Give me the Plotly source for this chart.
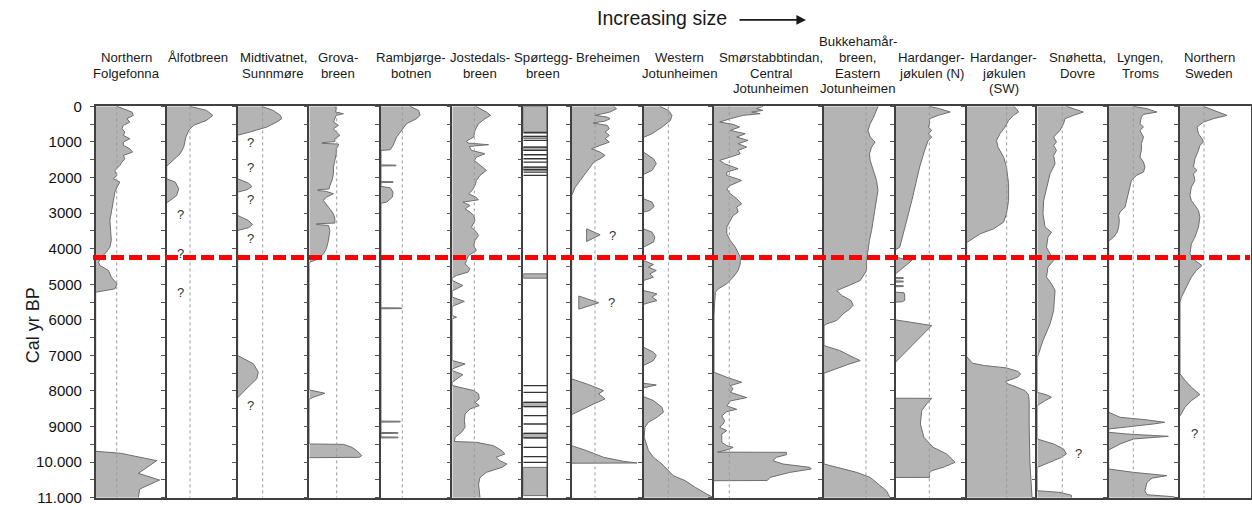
import plotly.graph_objects as go

# ---------------- data (age in cal yr BP, relative glacier size) ----------------
TITLES = [
    ["Northern", "Folgefonna"], ["Ålfotbreen"], ["Midtivatnet,", "Sunnmøre"],
    ["Grova-", "breen"], ["Rambjørge-", "botnen"], ["Jostedals-", "breen"],
    ["Spørtegg-", "breen"], ["Breheimen"], ["Western", "Jotunheimen"],
    ["Smørstabbtindan,", "Central", "Jotunheimen"],
    ["Bukkehamår-", "breen,", "Eastern", "Jotunheimen"],
    ["Hardanger-", "jøkulen (N)"], ["Hardanger-", "jøkulen", "(SW)"],
    ["Snøhetta,", "Dovre"], ["Lyngen,", "Troms"], ["Northern", "Sweden"],
]

# reference (dashed) size level per panel; None = no line
DASH_REF = [29.6, 32.8, 35.2, 38.6, 30, 31, None, 32.8, 35, 21.5, 59.2, 47.6, 56.3, 35.2, 34.6, 33.8]

N_FOLGEFONNA = [(0, 30), (66, 39), (159, 51), (253, 53), (347, 44), (441, 48), (534, 39), (628, 37),
                (722, 41), (816, 39), (910, 48), (1003, 39), (1097, 39), (1191, 48), (1285, 52), (1378, 39),
                (1472, 41), (1566, 37), (1660, 34), (1800, 27), (1941, 30), (2035, 25), (2128, 34), (2269, 30),
                (2410, 27), (2644, 25), (2925, 22), (3207, 20), (3488, 21), (3769, 22), (3957, 20), (4098, 15),
                (4238, 8), (4379, 4), (4473, 6), (4613, 18), (4801, 22), (4988, 30), (5129, 27), (5200, 10),
                (5223, 0), (9695, 0), (9750, 35), (9958, 86), (10315, 60), (10503, 90), (10756, 62), (11000, 60)]
ALFOTBREEN = [(0, 33), (113, 56), (253, 65), (394, 56), (534, 38), (675, 31), (863, 27), (1144, 24),
              (1331, 19), (1519, 9), (1660, 1), (1680, 0), (2035, 0), (2128, 12), (2316, 17), (2504, 14),
              (2644, 5), (2710, 0)]
MIDTIVATNET = [(0, 34), (113, 50), (253, 60), (347, 62), (441, 55), (581, 41), (722, 17), (797, 1), (810, 0),
               (2035, 0), (2157, 15), (2250, 20), (2344, 13), (2410, 0), (3066, 0), (3207, 15), (3319, 21),
               (3413, 15), (3488, 0), (7004, 0), (7233, 22), (7468, 29), (7655, 27), (7843, 17), (8030, 8),
               (8190, 0)]
GROVABREEN = [(0, 36), (66, 38), (159, 37), (206, 48), (253, 38), (347, 36), (441, 34), (534, 41), (628, 34),
              (722, 38), (816, 43), (910, 36), (990, 36), (1020, 18), (1040, 18), (1060, 41), (1097, 41),
              (1191, 38), (1331, 38), (1519, 36), (1707, 34), (1894, 34), (2082, 32), (2222, 29), (2320, 28),
              (2344, 12), (2365, 12), (2390, 24), (2457, 34), (2550, 24), (2644, 20), (2832, 27), (3020, 34),
              (3160, 36), (3280, 36), (3300, 10), (3320, 10), (3347, 27), (3488, 29), (3769, 27), (4004, 24),
              (4145, 20), (4285, 13), (4379, 1), (4400, 0), (7970, 0), (8064, 22), (8158, 8), (8223, 0),
              (9489, 0), (9500, 48), (9583, 60), (9677, 67), (9817, 74), (9864, 70), (9875, 0)]
RAMBJORGEBOTNEN = [(0, 41), (113, 53), (253, 55), (347, 50), (488, 36), (675, 29), (863, 22), (1097, 17),
                   (1219, 13), (1238, 0), (1645, 0), (1650, 21), (1670, 21), (1675, 0), (2113, 0), (2118, 17),
                   (2138, 17), (2143, 0), (2250, 0), (2288, 13), (2410, 17), (2550, 16), (2691, 8), (2720, 0),
                   (5660, 0), (5665, 29), (5685, 29), (5690, 0), (8845, 0), (8850, 27), (8870, 27), (8875, 0),
                   (9165, 0), (9170, 24), (9190, 24), (9195, 0), (9290, 0), (9295, 24), (9315, 24), (9320, 0)]
JOSTEDALSBREEN = [(0, 33), (66, 39), (159, 48), (253, 54), (347, 46), (488, 37), (675, 32), (863, 30),
                  (975, 20), (1031, 22), (1078, 51), (1125, 24), (1238, 27), (1331, 46), (1425, 34), (1519, 31),
                  (1660, 39), (1800, 48), (1941, 39), (2082, 34), (2222, 32), (2363, 28), (2457, 23), (2550, 33),
                  (2625, 37), (2691, 15), (2785, 25), (2879, 18), (2972, 25), (3066, 30), (3207, 32), (3394, 27),
                  (3535, 34), (3629, 37), (3769, 32), (3910, 30), (4051, 34), (4191, 23), (4332, 20), (4426, 18),
                  (4566, 25), (4660, 22), (4754, 6), (4820, 0), (4895, 0), (5035, 15), (5157, 3), (5180, 0),
                  (5363, 0), (5480, 17), (5598, 3), (5620, 0), (5880, 0), (5925, 6), (5970, 0), (7145, 0),
                  (7240, 18), (7380, 0), (7427, 0), (7540, 15), (7754, 0), (7848, 0), (7988, 30), (8081, 37),
                  (8222, 38), (8317, 32), (8411, 38), (8505, 25), (8645, 18), (8833, 17), (9021, 18), (9162, 13),
                  (9302, 4), (9420, 3), (9443, 34), (9536, 58), (9677, 70), (9770, 74), (9864, 62), (9958, 67),
                  (10052, 77), (10146, 70), (10287, 48), (10428, 39), (10616, 37), (10803, 38), (11000, 39)]
SPORTEGG_GRAY = [(0, 722), (844, 900), (1144, 1238), (1707, 1782), (4707, 4829), (8317, 8439),
                 (9189, 9320), (10146, 10940)]
SPORTEGG_LINES = [741, 844, 956, 1144, 1238, 1360, 1472, 1566, 1707, 1782, 1847, 1941,
                  7848, 8036, 8317, 8439, 8692, 8927, 9189, 9320, 9583, 9845, 10005]
BREHEIMEN = [(0, 59), (66, 63), (159, 54), (253, 33), (300, 50), (347, 54), (413, 47), (469, 30), (534, 50),
             (628, 53), (722, 47), (816, 53), (910, 47), (1003, 53), (1097, 40), (1191, 28), (1285, 40),
             (1378, 47), (1472, 40), (1566, 31), (1707, 26), (1894, 19), (2082, 12), (2269, 5), (2504, 0),
             (7660, 0), (7800, 21), (7988, 45), (8081, 38), (8222, 47), (8364, 31), (8551, 12), (8664, 0),
             (9536, 0), (9677, 21), (9864, 45), (9977, 73), (10024, 92), (10030, 0)]
BREHEIMEN_FLOAT_1 = [(3441, 21), (3610, 40), (3800, 21)]
BREHEIMEN_FLOAT_2 = [(5330, 10), (5520, 38), (5700, 10)]
W_JOTUNHEIMEN = [(0, 23), (113, 35), (253, 40), (394, 38), (581, 26), (769, 12), (863, 1), (880, 0),
                 (1285, 0), (1472, 14), (1613, 18), (1800, 12), (1913, 0), (2597, 0), (2691, 12), (2813, 15),
                 (2925, 9), (2972, 0), (3441, 0), (3535, 12), (3676, 16), (3816, 14), (3957, 0), (4332, 0),
                 (4444, 14), (4520, 7), (4613, 18), (4707, 9), (4801, 14), (4895, 0), (5176, 0), (5270, 19),
                 (5363, 12), (5457, 19), (5551, 2), (5570, 0), (6770, 0), (6910, 14), (7004, 18), (7145, 14),
                 (7285, 0), (7782, 0), (7830, 18), (7913, 0), (8158, 0), (8270, 14), (8458, 26), (8598, 28),
                 (8739, 19), (8880, 7), (9021, 2), (9300, 1), (9677, 7), (9864, 14), (10052, 26), (10240, 35),
                 (10381, 42), (10522, 59), (10709, 73), (10896, 89), (11000, 99)]
SMORSTABBTINDAN = [(0, 69), (66, 60), (113, 69), (159, 53), (206, 65), (253, 41), (347, 23), (441, 8),
                   (506, 27), (581, 36), (675, 23), (769, 44), (863, 32), (957, 48), (1050, 34), (1144, 46),
                   (1238, 34), (1331, 37), (1425, 23), (1519, 8), (1613, 15), (1753, 34), (1847, 18), (1941, 18),
                   (2082, 39), (2222, 23), (2316, 18), (2457, 23), (2597, 32), (2738, 39), (2832, 32), (2972, 34),
                   (3066, 27), (3207, 23), (3394, 18), (3582, 18), (3769, 23), (3957, 30), (4098, 34), (4238, 37),
                   (4426, 37), (4613, 34), (4801, 27), (4988, 18), (5129, 6), (5223, 2), (5500, 1), (5880, 0),
                   (7473, 0), (7614, 18), (7754, 39), (7848, 23), (7942, 27), (8036, 23), (8186, 46), (8280, 23),
                   (8420, 18), (8514, 32), (8580, 18), (8702, 11), (8842, 15), (8927, 13), (9021, 8), (9115, 18),
                   (9208, 11), (9443, 11), (9536, 18), (9583, 27), (9658, 18), (9718, 5), (9724, 102), (9790, 102),
                   (9864, 88), (9958, 83), (10052, 97), (10146, 135), (10193, 137), (10287, 107), (10428, 79),
                   (10515, 75), (10522, 0)]
BUKKEHAMARBREEN = [(0, 76), (113, 74), (300, 70), (488, 65), (675, 62), (863, 65), (1003, 72), (1144, 67),
                   (1331, 64), (1519, 65), (1800, 69), (2082, 74), (2363, 76), (2644, 74), (2925, 72), (3207, 69),
                   (3488, 67), (3769, 64), (4051, 62), (4332, 60), (4613, 60), (4895, 51), (5035, 35), (5176, 18),
                   (5316, 25), (5457, 38), (5590, 41), (5700, 36), (5832, 27), (6020, 18), (6113, 4), (6160, 0),
                   (6723, 0), (6863, 22), (7051, 41), (7145, 51), (7239, 36), (7380, 18), (7501, 0),
                   (10052, 0), (10146, 18), (10287, 46), (10428, 65), (10615, 77), (10803, 88), (11000, 93)]
HARDANGER_N = [(0, 48), (66, 62), (159, 77), (253, 60), (347, 48), (488, 48), (581, 46), (675, 51), (769, 46),
               (863, 51), (957, 46), (1238, 41), (1707, 34), (2175, 29), (2644, 23), (3113, 17), (3582, 11),
               (3957, 6), (4030, 0), (4238, 0), (4332, 23), (4473, 15), (4613, 6), (4707, 0),
               (4810, 0), (4815, 11), (4840, 11), (4845, 0), (4905, 0), (4910, 11), (4935, 11), (4940, 0),
               (5035, 0), (5040, 11), (5065, 11), (5070, 0), (5223, 0), (5240, 12), (5300, 13), (5450, 13),
               (5490, 10), (5504, 0), (6001, 0), (6160, 51), (7192, 0), (8204, 0), (8206, 51), (8360, 44),
               (8551, 37), (8927, 35), (9302, 40), (9583, 53), (9770, 72), (10005, 84), (10146, 67),
               (10240, 51), (10300, 48), (10428, 48), (10430, 0)]
HARDANGER_SW = [(0, 66), (66, 70), (159, 73), (253, 66), (394, 59), (581, 54), (769, 47), (957, 42), (1144, 44),
                (1425, 52), (1707, 56), (2175, 59), (2644, 59), (3020, 56), (3254, 52), (3441, 38), (3582, 19),
                (3723, 7), (3816, 1), (3830, 0), (7032, 0), (7220, 8), (7285, 25), (7351, 56), (7450, 72),
                (7520, 76), (7610, 72), (7730, 55), (7800, 58), (7890, 70), (7988, 82), (8100, 87), (8300, 88),
                (9000, 88), (10000, 89), (10990, 92), (11000, 92)]
SNOHETTA = [(0, 41), (66, 51), (159, 65), (253, 51), (347, 39), (488, 37), (675, 32), (863, 23), (1003, 27),
            (1097, 23), (1238, 27), (1378, 23), (1613, 25), (1894, 18), (2269, 13), (2644, 9), (3020, 8),
            (3394, 11), (3535, 20), (3676, 15), (3957, 13), (4145, 18), (4332, 23), (4520, 15), (4801, 13),
            (4988, 20), (5176, 25), (5457, 24), (5738, 23), (6113, 18), (6582, 8), (7004, 1), (7050, 0),
            (8040, 0), (8106, 13), (8176, 20), (8270, 11), (8411, 0), (9349, 0), (9489, 23), (9630, 37),
            (9770, 41), (9864, 34), (9958, 23), (10100, 6), (10146, 0), (10803, 0), (10850, 32), (10930, 48),
            (11000, 48)]
LYNGEN = [(0, 35), (66, 54), (159, 68), (225, 49), (300, 46), (488, 44), (581, 49), (675, 44), (863, 49),
          (1050, 46), (1238, 46), (1425, 44), (1566, 49), (1707, 51), (1847, 49), (1941, 39), (2082, 32),
          (2269, 30), (2457, 28), (2644, 25), (2832, 23), (2972, 16), (3066, 14), (3207, 15), (3394, 14),
          (3535, 12), (3676, 7), (3769, 1), (3790, 0), (8598, 0), (8739, 16), (8810, 53), (8880, 79),
          (8927, 63), (9021, 16), (9068, 0), (9161, 0), (9208, 25), (9274, 84), (9349, 35), (9489, 16),
          (9658, 0), (10192, 0), (10287, 35), (10379, 82), (10450, 61), (10568, 54), (10803, 51), (10915, 54),
          (10972, 91), (11000, 95)]
N_SWEDEN = [(0, 33), (113, 47), (253, 66), (347, 47), (441, 33), (581, 24), (769, 26), (910, 31), (1003, 33),
            (1097, 28), (1238, 26), (1472, 21), (1707, 19), (1800, 24), (1894, 19), (2082, 21), (2269, 16),
            (2504, 14), (2644, 16), (2785, 21), (2925, 26), (3113, 28), (3394, 26), (3676, 21), (3863, 16),
            (4145, 14), (4332, 21), (4473, 31), (4613, 23), (4801, 16), (5082, 9), (5363, 2), (5504, 0),
            (7520, 0), (7700, 7), (7895, 16), (8101, 28), (8270, 16), (8458, 7), (8692, 1), (8700, 0)]

PROFILES = [N_FOLGEFONNA, ALFOTBREEN, MIDTIVATNET, GROVABREEN, RAMBJORGEBOTNEN, JOSTEDALSBREEN, None,
            BREHEIMEN, W_JOTUNHEIMEN, SMORSTABBTINDAN, BUKKEHAMARBREEN, HARDANGER_N, HARDANGER_SW,
            SNOHETTA, LYNGEN, N_SWEDEN]

# uncertain ages marked "?" : (panel index, age, size)
QUERIES = [(1, 3050, 11.7), (1, 4130, 11.7), (1, 5230, 11.7),
           (2, 1004, 10.5), (2, 1707, 10.5), (2, 2625, 10.5), (2, 3722, 10.5), (2, 8411, 10.5),
           (7, 3629, 50), (7, 5520, 49), (13, 9752, 50), (15, 9198, 12.7)]

RED_LINE_AGE = 4250
TICK_VALS = list(range(0, 11001, 500))
TICK_TEXT = {0: "0", 1000: "1000", 2000: "2000", 3000: "3000", 4000: "4000", 5000: "5000", 6000: "6000",
             7000: "7000", 8000: "8000", 9000: "9000", 10000: "10.000", 11000: "11.000"}

# ---------------- layout geometry (pixels) ----------------
W, H = 1252, 510
EDGES = [95.7, 166.7, 237.7, 309.3, 381, 452.3, 523.3, 571.7, 643.5, 714, 824, 895.5,
         966.7, 1037.3, 1108.7, 1180, 1250.5]
PX_PER_UNIT = 0.71
TOP_PX, BOT_PX = 106, 497.5
TITLE_X = [126, 198, 273, 338, 411, 480, 543, 607.5, 680, 771, 857.5, 931, 1003.5, 1077, 1140, 1209]
LINE_Y = [57.5, 73, 88.5]
SPT_BAR_UNITS = 24 / PX_PER_UNIT
# the page photo maps page y to picture y as y*0.967 + 8.6 ; compensate
Y_SCALE, Y_OFF = 0.967, 8.6

FILL = "#b4b4b4"
EDGE = "#6e6e6e"
AX = "#404040"
FONT_T = "Liberation Sans, Arial, sans-serif"
FONT_R = "Liberation Sans, Arial, sans-serif"


def px(x):
    return x / W


def py(y):
    return 1 - ((y - Y_OFF) / Y_SCALE) / H


fig = go.Figure()
layout = dict(width=W, height=H, margin=dict(l=0, r=0, t=0, b=0), paper_bgcolor="white",
              plot_bgcolor="white", showlegend=False)
ydom = [py(BOT_PX), py(TOP_PX)]

for i in range(16):
    n = i + 1
    xa = "x" if n == 1 else f"x{n}"
    ya = "y" if n == 1 else f"y{n}"
    xkey = "xaxis" if n == 1 else f"xaxis{n}"
    ykey = "yaxis" if n == 1 else f"yaxis{n}"
    width_units = (EDGES[i + 1] - EDGES[i]) / PX_PER_UNIT
    layout[xkey] = dict(domain=[px(EDGES[i]), px(EDGES[i + 1])], range=[0, width_units], anchor=ya,
                        showline=True, mirror=True, linecolor=AX, linewidth=1.5, ticks="",
                        showticklabels=False, showgrid=False, zeroline=False, fixedrange=True)
    layout[ykey] = dict(domain=ydom, range=[11000, 0], anchor=xa, showline=True, linecolor=AX,
                        linewidth=1.5, ticks="outside", ticklen=4, tickwidth=1, tickcolor="#555",
                        tickvals=TICK_VALS, ticktext=[TICK_TEXT.get(v, "") for v in TICK_VALS],
                        showticklabels=(n == 1), showgrid=False, zeroline=False, fixedrange=True,
                        tickfont=dict(family=FONT_R, size=15, color="#111"), ticklabelstandoff=5,
                        ticklabeloverflow="allow", mirror=(n == 16))

    prof = PROFILES[i]
    if prof is not None:
        fig.add_trace(go.Scatter(x=[p[1] for p in prof], y=[p[0] for p in prof], mode="lines",
                                 fill="tozerox", fillcolor=FILL, line=dict(color=EDGE, width=1),
                                 xaxis=xa, yaxis=ya, hoverinfo="skip"))
    if n == 8:
        for tri in (BREHEIMEN_FLOAT_1, BREHEIMEN_FLOAT_2):
            fig.add_trace(go.Scatter(x=[p[1] for p in tri] + [tri[0][1]],
                                     y=[p[0] for p in tri] + [tri[0][0]], mode="lines", fill="toself",
                                     fillcolor=FILL, line=dict(color=EDGE, width=1), xaxis=xa, yaxis=ya,
                                     hoverinfo="skip"))
    if n == 7:
        for a0, a1 in SPORTEGG_GRAY:
            fig.add_trace(go.Scatter(x=[0, SPT_BAR_UNITS, SPT_BAR_UNITS, 0, 0], y=[a0, a0, a1, a1, a0],
                                     mode="lines", fill="toself", fillcolor=FILL,
                                     line=dict(color=EDGE, width=1), xaxis=xa, yaxis=ya, hoverinfo="skip"))
        lx, ly = [], []
        for a in SPORTEGG_LINES:
            lx += [0, SPT_BAR_UNITS, None]
            ly += [a, a, None]
        fig.add_trace(go.Scatter(x=lx, y=ly, mode="lines", line=dict(color="#333", width=1.3),
                                 xaxis=xa, yaxis=ya, hoverinfo="skip"))
        fig.add_trace(go.Scatter(x=[SPT_BAR_UNITS, SPT_BAR_UNITS], y=[0, 11000], mode="lines",
                                 line=dict(color=AX, width=1.5), xaxis=xa, yaxis=ya, hoverinfo="skip"))
    if DASH_REF[i] is not None:
        fig.add_trace(go.Scatter(x=[DASH_REF[i], DASH_REF[i]], y=[0, 11000], mode="lines",
                                 line=dict(color="#9a9a9a", width=1, dash="3px,3px"),
                                 xaxis=xa, yaxis=ya, hoverinfo="skip"))

# question marks
for pi, age, size in QUERIES:
    n = pi + 1
    fig.add_annotation(x=size, y=age, xref=("x" if n == 1 else f"x{n}"), yref=("y" if n == 1 else f"y{n}"),
                       text="?", showarrow=False, xanchor="left", yanchor="middle",
                       font=dict(family=FONT_R, size=13, color="#333"))

# panel titles
for i, lines in enumerate(TITLES):
    start = -1 if len(lines) == 4 else 0
    for k, t in enumerate(lines):
        idx = start + k
        yy = LINE_Y[idx] if idx >= 0 else LINE_Y[0] - 16
        fig.add_annotation(x=px(TITLE_X[i]), y=py(yy), xref="paper", yref="paper", text=t,
                           showarrow=False, xanchor="center", yanchor="middle",
                           font=dict(family=FONT_T, size=13.2, color="#1a1a1a"))

# header and axis title
fig.add_annotation(x=px(661.5), y=py(18), xref="paper", yref="paper", text="Increasing size",
                   showarrow=False, xanchor="center", yanchor="middle",
                   font=dict(family=FONT_R, size=19.5, color="#1a1a1a"))
fig.add_annotation(x=px(806), y=py(19.5), xref="paper", yref="paper", text="", showarrow=True,
                   ax=-68, ay=0, arrowhead=2, arrowsize=1.2, arrowwidth=1.6, arrowcolor="#1a1a1a")
fig.add_annotation(x=px(33), y=py(325), xref="paper", yref="paper", text="Cal yr BP", textangle=-90,
                   showarrow=False, xanchor="center", yanchor="middle",
                   font=dict(family=FONT_R, size=18, color="#1a1a1a"))

layout["shapes"] = [dict(type="line", xref="paper", yref="y", x0=px(93), x1=px(1250), y0=RED_LINE_AGE,
                         y1=RED_LINE_AGE, line=dict(color="#ff0000", width=5, dash="13px,5px"))]
fig.update_layout(**layout)

PIN_SCRIPT = ("var g=document.getElementById('{plot_id}');"
              "g.style.position='fixed';g.style.left='0px';g.style.top='0px';"
              "document.documentElement.style.margin='0';document.body.style.margin='0';"
              "document.body.style.padding='0';document.documentElement.style.overflow='hidden';"
              "document.body.style.overflow='hidden';")
fig.write_html("out.html", config={"displayModeBar": False}, post_script=PIN_SCRIPT)
